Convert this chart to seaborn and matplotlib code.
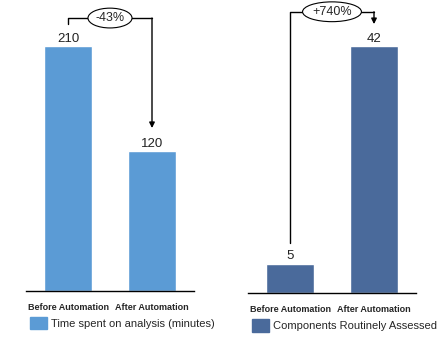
import matplotlib
matplotlib.use('Agg')
import matplotlib.pyplot as plt
import seaborn as sns
from matplotlib.patches import Patch

# data
categories = ['Before Automation', 'After Automation']
time_values = [210, 120]
comp_values = [5, 42]
time_label = 'Time spent on analysis (minutes)'
comp_label = 'Components Routinely Assessed'
time_change = '-43%'
comp_change = '+740%'

time_color = '#5B9BD5'
comp_color = '#4A6A9B'

sns.set_style('white')
plt.rcParams['font.family'] = ['Liberation Sans', 'DejaVu Sans']

fig = plt.figure(figsize=(4.43, 3.56), dpi=100)
ax1 = fig.add_axes([26 / 443, 65 / 356, 168 / 443, 281 / 356])
ax2 = fig.add_axes([248 / 443, 63 / 356, 168 / 443, 283 / 356])


def draw_panel(ax, values, color, label, change, ymax, bracket):
    sns.barplot(x=categories, y=values, color=color, saturation=1, width=0.56, ax=ax)
    ax.set_xlim(-0.5, 1.5)
    ax.set_ylim(0, ymax)
    for s in ['top', 'left', 'right']:
        ax.spines[s].set_visible(False)
    ax.spines['bottom'].set_color('black')
    ax.spines['bottom'].set_linewidth(1.0)
    ax.set_yticks([])
    ax.set_ylabel('')
    ax.tick_params(axis='x', length=0, pad=9)
    for t in ax.get_xticklabels():
        t.set_fontsize(6.5)
        t.set_fontweight('bold')

    # value labels
    for i, v in enumerate(values):
        ax.text(i, v + ymax * 0.004, str(v), ha='center', va='bottom', fontsize=9.5, color='#222222')

    # bracket with change ellipse
    y0, ytop, yend = bracket
    ax.plot([0, 0, 1], [y0, ytop, ytop], color='black', lw=1.0, clip_on=False)
    ax.annotate('', xy=(1, yend), xytext=(1, ytop),
                arrowprops=dict(arrowstyle='-|>', color='black', lw=1.0, mutation_scale=8,
                                shrinkA=0, shrinkB=0),
                annotation_clip=False)
    ax.text(0.5, ytop, change, ha='center', va='center', fontsize=9, zorder=5,
            bbox=dict(boxstyle='ellipse,pad=0.08', fc='white', ec='black', lw=0.8))

    ax.legend(handles=[Patch(color=color)], labels=[label], loc='upper left',
              bbox_to_anchor=(0.024, -0.092), frameon=False, fontsize=8.0,
              borderpad=0, borderaxespad=0, handlelength=1.5, handleheight=1.35,
              handletextpad=0.35)


draw_panel(ax1, time_values, time_color, time_label, time_change, 240.9, (229, 234, 139.7))
draw_panel(ax2, comp_values, comp_color, comp_label, comp_change, 48.1, (8.5, 47.8, 45.7))

fig.savefig('out.png', dpi=100)
